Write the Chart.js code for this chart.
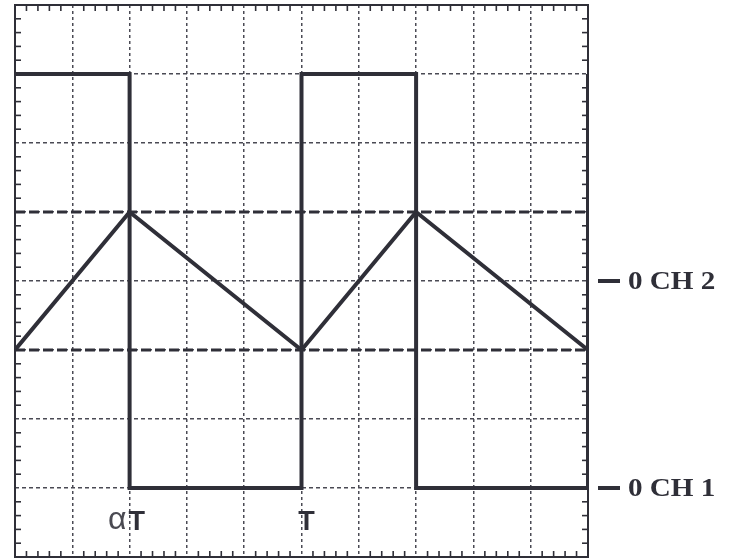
<!DOCTYPE html>
<html>
<head>
<meta charset="utf-8">
<script src="https://cdn.jsdelivr.net/npm/chart.js@4/dist/chart.umd.min.js"></script>
<style>
html,body{margin:0;padding:0;background:#fff;}
#wrap{width:729px;height:559px;}
</style>
</head>
<body>
<div id="wrap"><canvas id="c" width="729" height="559"></canvas></div>
<script>
// time axis in divisions, voltage axis in divisions
const ch1Times = [0, 2, 2, 5, 5, 7, 7, 10, 10];
const ch1Values = [7, 7, 1, 1, 7, 7, 1, 1, 7];
const ch2Times = [0, 2, 5, 7, 10];
const ch2Values = [3, 5, 3, 5, 3];
const refLevels = [5, 3];
const groundLabels = ['0 CH 2', '0 CH 1'];
const groundLevels = [4, 1];
const timeMarkers = ['αT', 'T'];
const timeMarkerPos = [2, 5];

const ink = '#2f2f38';
const gridInk = '#4a4a54';

function toPts(xs, ys){ return xs.map((x,i)=>({x:x, y:ys[i]})); }

const refSets = refLevels.map(l => ({
  data: toPts([0,10],[l,l]),
  borderColor: ink, borderWidth: 3, borderDash: [10,4],
  pointRadius: 0, fill: false
}));

const decor = {
  id: 'decor',
  afterDraw(chart){
    const {ctx, chartArea:a, scales:{x,y}} = chart;
    ctx.save();
    // frame
    ctx.strokeStyle = ink; ctx.lineWidth = 2;
    ctx.strokeRect(a.left, a.top, a.right-a.left, a.bottom-a.top);
    // minor ticks along borders
    ctx.lineWidth = 1.6;
    for(let v=0; v<=10.001; v+=0.2){
      const px = x.getPixelForValue(v);
      const len = Math.abs(v-Math.round(v))<0.01 ? 0 : 6;
      if(!len) continue;
      ctx.beginPath(); ctx.moveTo(px, a.top); ctx.lineTo(px, a.top+len); ctx.stroke();
      ctx.beginPath(); ctx.moveTo(px, a.bottom); ctx.lineTo(px, a.bottom-len); ctx.stroke();
    }
    for(let v=0; v<=8.001; v+=0.2){
      const py = y.getPixelForValue(v);
      const len = Math.abs(v-Math.round(v))<0.01 ? 0 : 6;
      if(!len) continue;
      ctx.beginPath(); ctx.moveTo(a.left, py); ctx.lineTo(a.left+len, py); ctx.stroke();
      ctx.beginPath(); ctx.moveTo(a.right, py); ctx.lineTo(a.right-len, py); ctx.stroke();
    }
    // ground markers
    ctx.fillStyle = ink; ctx.strokeStyle = ink;
    ctx.font = 'bold 26px "Liberation Serif", serif';
    ctx.textBaseline = 'middle'; ctx.textAlign = 'left';
    groundLabels.forEach((t,i)=>{
      const py = y.getPixelForValue(groundLevels[i]);
      ctx.lineWidth = 4;
      ctx.beginPath(); ctx.moveTo(a.right+10, py); ctx.lineTo(a.right+32, py); ctx.stroke();
      ctx.save();
      ctx.translate(a.right+40, py+1);
      ctx.scale(1.12, 1);
      ctx.fillText(t, 0, 0);
      ctx.restore();
    });
    // time markers
    const my = y.getPixelForValue(0.5);
    timeMarkers.forEach((t,i)=>{
      const px = x.getPixelForValue(timeMarkerPos[i]);
      if(t.length>1){
        ctx.font = '32px "Liberation Sans", sans-serif';
        ctx.fillStyle = '#4a4a52';
        ctx.textAlign = 'right';
        ctx.fillText(t[0], px-3, my-2);
        ctx.font = 'bold 27px "Liberation Sans", sans-serif';
        ctx.fillStyle = ink;
        ctx.textAlign = 'left';
        ctx.fillText(t.slice(1), px-1, my);
      } else {
        ctx.font = 'bold 27px "Liberation Sans", sans-serif';
        ctx.fillStyle = ink;
        ctx.textAlign = 'center';
        ctx.fillText(t, px+5, my);
      }
    });
    ctx.restore();
  }
};

new Chart(document.getElementById('c'), {
  type: 'line',
  data: {
    datasets: [
      ...refSets,
      { data: toPts(ch2Times, ch2Values), borderColor: ink, borderWidth: 4, pointRadius: 0, fill: false, borderJoinStyle: 'miter' },
      { data: toPts(ch1Times, ch1Values), borderColor: ink, borderWidth: 4, pointRadius: 0, fill: false, borderJoinStyle: 'miter' }
    ]
  },
  options: {
    responsive: false,
    animation: false,
    devicePixelRatio: 1,
    layout: { padding: { left: 15, top: 5, right: 141, bottom: 2 } },
    plugins: { legend: { display: false }, tooltip: { enabled: false } },
    elements: { line: { tension: 0 } },
    scales: {
      x: {
        type: 'linear', min: 0, max: 10,
        ticks: { display: false, stepSize: 1 },
        grid: { color: gridInk, lineWidth: 1.5, drawTicks: false },
        border: { display: false, dash: [3, 3] }
      },
      y: {
        type: 'linear', min: 0, max: 8,
        ticks: { display: false, stepSize: 1 },
        grid: { color: gridInk, lineWidth: 1.5, drawTicks: false },
        border: { display: false, dash: [4, 3] }
      }
    }
  },
  plugins: [decor]
});
</script>
</body>
</html>
